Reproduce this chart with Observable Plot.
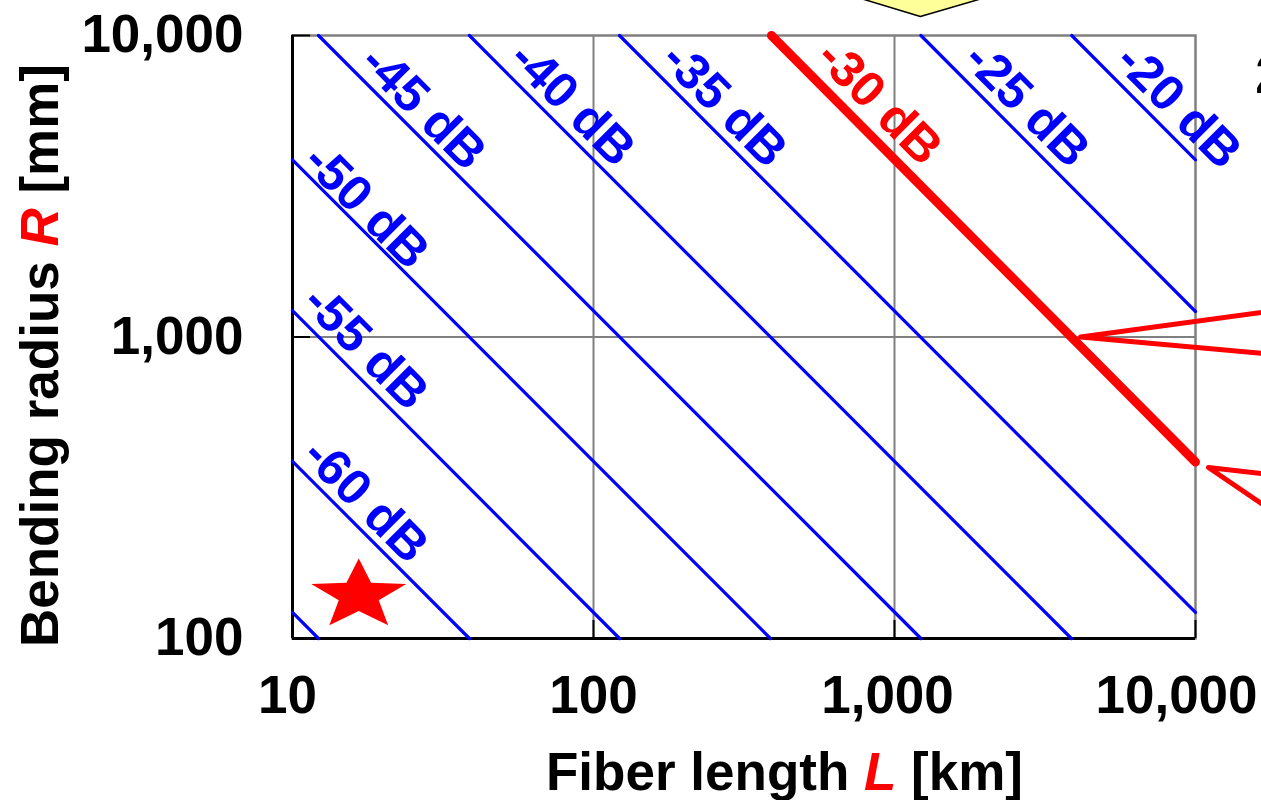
<!DOCTYPE html>
<html>
<head>
<meta charset="utf-8">
<script src="https://cdn.jsdelivr.net/npm/d3@7"></script>
<script src="https://cdn.jsdelivr.net/npm/@observablehq/plot@0.6"></script>
<style>
  html, body { margin: 0; padding: 0; background: #fff; }
  #chart { width: 1261px; height: 800px; overflow: hidden; }
</style>
</head>
<body>
<div id="chart"></div>
<script>
// ---- Data ----
const xTicks = [10, 100, 1000, 10000];
const yTicks = [100, 1000, 10000];
const xGrid = [100, 1000];
const yGrid = [1000];

// constant-loss lines (dB) : endpoints (L [km], R [mm])
const dBLevels = [-65, -60, -55, -50, -45, -40, -35, -30, -25, -20];
const startL = [10, 10, 10, 10, 12.2, 38.7, 122, 390, 1224, 3880];
const startR = [122, 387, 1224, 3870, 10000, 10000, 10000, 10000, 10000, 10000];
const endL   = [12.2, 38.7, 122, 387, 1224, 3870, 10000, 10000, 10000, 10000];
const endR   = [100, 100, 100, 100, 100, 100, 122, 385, 1215, 3870];

// labels of the lines
const labelText = ["-60 dB", "-55 dB", "-50 dB", "-45 dB", "-40 dB", "-35 dB", "-30 dB", "-25 dB", "-20 dB"];
const labelDB   = [-60, -55, -50, -45, -40, -35, -30, -25, -20];
const labelL    = [17.5, 17.5, 17.6, 27.2, 85.1, 272, 891, 2750, 8790];
const labelR    = [287, 923, 2710, 5770, 5945, 5900, 5995, 5900, 5825];

// red star
const starL = [16.6];
const starR = [139];

// red callout wedges (partially outside the figure)
const callId = [1, 1, 1, 2, 2, 2];
const callL  = [22330, 4150, 22330, 22330, 11040, 22330];
const callR  = [1257, 1000, 859, 341, 369, 229];

// yellow shape at the top (partially outside)
const yelL = [632, 1219, 2410];
const yelR = [14100, 11560, 14100];

// cut-off text at the right edge
const edgeText = ["2"];
const edgeL = [15800];
const edgeR = [7360];

// ---- Tables built from the arrays ----
const lineRows = dBLevels.flatMap((dB, i) => [
  {dB, L: startL[i], R: startR[i]},
  {dB, L: endL[i], R: endR[i]}
]);
const labels = labelText.map((t, i) => ({text: t, dB: labelDB[i], L: labelL[i], R: labelR[i]}));
const star = starL.map((L, i) => ({L, R: starR[i]}));
const callouts = callId.map((id, i) => ({id, L: callL[i], R: callR[i]}));
const yellow = yelL.map((L, i) => ({L, R: yelR[i]}));
const edge = edgeText.map((t, i) => ({text: t, L: edgeL[i], R: edgeR[i]}));

const BLUE = "#0000ff", RED = "#ff0000", GRAY = "#808080";
const FONT = "'Liberation Sans', Arial, Helvetica, sans-serif";

// squashed five-point star symbol
const squashedStar = {
  draw(context, size) {
    const ro = Math.sqrt(size / Math.PI), ri = ro * 0.42, sy = 0.74;
    for (let i = 0; i < 10; i++) {
      const a = i * Math.PI / 5 - Math.PI / 2;
      const r = i % 2 ? ri : ro;
      const px = r * Math.cos(a), py = r * Math.sin(a) * sy;
      if (i === 0) context.moveTo(px, py); else context.lineTo(px, py);
    }
    context.closePath();
  }
};

function title(parts, place, rotate) {
  return (index, scales, values, dims) => {
    const [x, y] = place(dims);
    const t = d3.create("svg:text")
      .attr("transform", `translate(${x},${y}) rotate(${rotate})`)
      .attr("text-anchor", "middle")
      .attr("font-family", FONT)
      .attr("font-size", 53)
      .attr("font-weight", "bold")
      .attr("fill", "black");
    for (const p of parts) {
      const s = t.append("tspan").text(p.text);
      if (p.color) s.attr("fill", p.color);
      if (p.italic) s.attr("font-style", "italic");
    }
    return t.node();
  };
}

const fmt = d3.format(",");
const axisStyle = {tickSize: 0, fontSize: 53, fontWeight: "bold", tickFormat: fmt, label: null};

const chart = Plot.plot({
  width: 1261,
  height: 800,
  marginLeft: 292,
  marginRight: 66,
  marginTop: 35,
  marginBottom: 162,
  style: {fontFamily: FONT, color: "black", background: "white", overflow: "visible"},
  x: {type: "log", domain: [10, 10000]},
  y: {type: "log", domain: [100, 10000]},
  marks: [
    Plot.ruleX(xGrid, {stroke: GRAY, strokeWidth: 2}),
    Plot.ruleY(yGrid, {stroke: GRAY, strokeWidth: 2}),
    Plot.frame({stroke: GRAY, strokeWidth: 2.5}),
    Plot.ruleX(xTicks.slice(1), {stroke: "black", strokeWidth: 2, insetTop: 603 - 18}),
    Plot.ruleY(yTicks.slice(1), {stroke: "black", strokeWidth: 2, insetRight: 903 - 18}),
    Plot.ruleX([xTicks[0]], {stroke: "black", strokeWidth: 3}),
    Plot.ruleY([yTicks[0]], {stroke: "black", strokeWidth: 3}),
    Plot.axisX([xTicks[0]], {...axisStyle, tickPadding: 37, dx: -5}),
    Plot.axisX([xTicks[1]], {...axisStyle, tickPadding: 37}),
    Plot.axisX([xTicks[2]], {...axisStyle, tickPadding: 37, dx: -7}),
    Plot.axisX([xTicks[3]], {...axisStyle, tickPadding: 37, dx: -19}),
    Plot.axisY(yTicks, {...axisStyle, tickPadding: 49}),
    Plot.line(lineRows.filter(d => d.dB !== -30), {x: "L", y: "R", z: "dB", stroke: BLUE, strokeWidth: 3.2}),
    Plot.line(lineRows.filter(d => d.dB === -30), {x: "L", y: "R", z: "dB", stroke: RED, strokeWidth: 9, strokeLinecap: "round"}),
    Plot.text(labels, {
      x: "L", y: "R", text: "text", rotate: 45,
      fill: d => d.dB === -30 ? RED : BLUE,
      fontSize: 50, fontWeight: "bold", textAnchor: "middle", lineAnchor: "middle"
    }),
    Plot.dot(star, {x: "L", y: "R", r: 50, symbol: squashedStar, fill: RED, stroke: null}),
    Plot.line(callouts, {x: "L", y: "R", z: "id", stroke: RED, strokeWidth: 5, strokeLinejoin: "round", strokeLinecap: "round"}),
    Plot.line(yellow, {x: "L", y: "R", fill: "#ffff99", stroke: "black", strokeWidth: 1.5}),
    Plot.text(edge, {x: "L", y: "R", text: "text", fontSize: 53, fontWeight: "bold", textAnchor: "start", lineAnchor: "middle", fill: "black"}),
    title(
      [{text: "Fiber length "}, {text: "L", color: RED, italic: true}, {text: " [km]"}],
      dims => [dims.marginLeft + (dims.width - dims.marginLeft - dims.marginRight) / 2 + 41, dims.height - 10],
      0
    ),
    title(
      [{text: "Bending radius "}, {text: "R", color: RED, italic: true}, {text: " [mm]"}],
      dims => [58, dims.marginTop + (dims.height - dims.marginTop - dims.marginBottom) / 2 + 19],
      -90
    )
  ]
});

document.getElementById("chart").appendChild(chart);
</script>
</body>
</html>
